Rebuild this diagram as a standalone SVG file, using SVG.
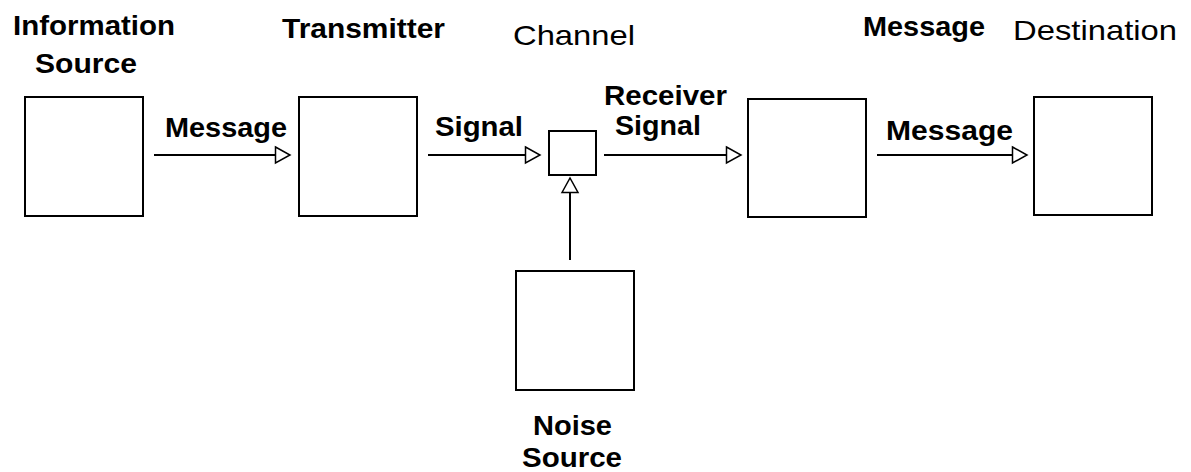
<svg xmlns="http://www.w3.org/2000/svg" width="1191" height="472" viewBox="0 0 1191 472">
<style>
.box{fill:#fff;stroke:#000;stroke-width:2}
.conn{stroke:#000;stroke-width:2;fill:none}
.t{font-family:"Liberation Sans",Arial,sans-serif;font-size:28px;font-weight:bold;fill:#000}
.r{font-weight:normal}
</style>
<defs>
<marker id="ah" markerUnits="userSpaceOnUse" markerWidth="18" markerHeight="20" viewBox="0 0 18 20" refX="16" refY="10" orient="auto">
<path d="M1.5,2 L16,10 L1.5,18 Z" fill="#fff" stroke="#000" stroke-width="1.5"/>
</marker>
</defs>
<rect width="1191" height="472" fill="#fff"/>
<g id="connectors">
<line class="conn" x1="154" y1="155" x2="290" y2="155" marker-end="url(#ah)"/>
<line class="conn" x1="428" y1="155" x2="540" y2="155" marker-end="url(#ah)"/>
<line class="conn" x1="604" y1="155" x2="741" y2="155" marker-end="url(#ah)"/>
<line class="conn" x1="877" y1="155" x2="1027" y2="155" marker-end="url(#ah)"/>
<line class="conn" x1="570" y1="260" x2="570" y2="178" marker-end="url(#ah)"/>
<text class="t" x="165" y="137" textLength="122" lengthAdjust="spacingAndGlyphs">Message</text>
<text class="t" x="435" y="136" textLength="88" lengthAdjust="spacingAndGlyphs">Signal</text>
<text class="t" x="604" y="105" textLength="123" lengthAdjust="spacingAndGlyphs">Receiver</text>
<text class="t" x="615" y="135" textLength="86" lengthAdjust="spacingAndGlyphs">Signal</text>
<text class="t" x="886" y="140" textLength="127" lengthAdjust="spacingAndGlyphs">Message</text>
</g>
<g id="info-source">
<rect class="box" x="25" y="97" width="118" height="119"/>
<text class="t" x="13" y="35" textLength="162" lengthAdjust="spacingAndGlyphs">Information</text>
<text class="t" x="35" y="73" textLength="102" lengthAdjust="spacingAndGlyphs">Source</text>
</g>
<g id="transmitter">
<rect class="box" x="299" y="97" width="118" height="119"/>
<text class="t" x="282" y="38" textLength="163" lengthAdjust="spacingAndGlyphs">Transmitter</text>
</g>
<g id="channel">
<rect class="box" x="549" y="131" width="47" height="44"/>
<text class="t r" x="513" y="45" textLength="122" lengthAdjust="spacingAndGlyphs">Channel</text>
</g>
<g id="receiver">
<rect class="box" x="748" y="99" width="118" height="118"/>
<text class="t" x="863" y="36" textLength="122" lengthAdjust="spacingAndGlyphs">Message</text>
</g>
<g id="destination">
<rect class="box" x="1034" y="97" width="118" height="118"/>
<text class="t r" x="1013" y="40" textLength="164" lengthAdjust="spacingAndGlyphs">Destination</text>
</g>
<g id="noise-source">
<rect class="box" x="516" y="271" width="118" height="119"/>
<text class="t" x="533" y="435" textLength="79" lengthAdjust="spacingAndGlyphs">Noise</text>
<text class="t" x="522" y="467" textLength="100" lengthAdjust="spacingAndGlyphs">Source</text>
</g>
</svg>
